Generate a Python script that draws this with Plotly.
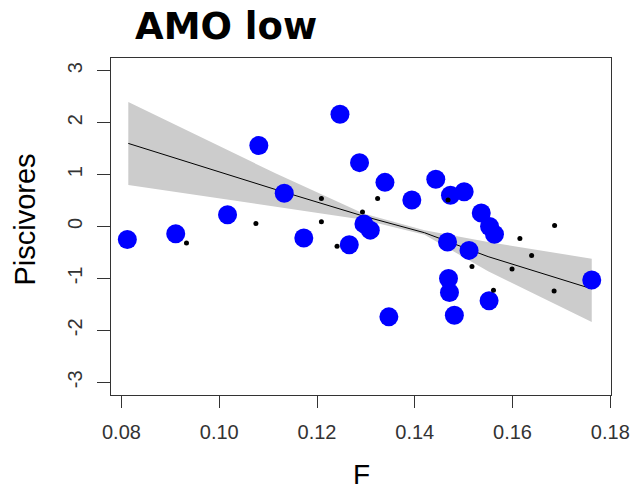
import plotly.graph_objects as go

# Blue points (F, Piscivores)
blue_F = [0.0812, 0.0911, 0.1017, 0.1081, 0.1133, 0.1173, 0.1247, 0.1266, 0.1287,
          0.1296, 0.1309, 0.1339, 0.1347, 0.1394, 0.1443, 0.1467, 0.1469, 0.1471,
          0.1473, 0.1481, 0.1501, 0.1511, 0.1536, 0.1552, 0.1553, 0.1563, 0.1762]
blue_Y = [-0.25, -0.14, 0.225, 1.56, 0.64, -0.22, 2.16, -0.35, 1.23,
          0.05, -0.07, 0.85, -1.74, 0.51, 0.91, -0.30, -1.00, -1.27,
          0.60, -1.71, 0.67, -0.46, 0.26, -1.43, 0.00, -0.15, -1.03]

# Small black points
black_F = [0.0933, 0.1075, 0.1209, 0.1209, 0.1241, 0.1293, 0.1324, 0.1468,
           0.1517, 0.1561, 0.1599, 0.1615, 0.1639, 0.1685, 0.1686]
black_Y = [-0.32, 0.06, 0.09, 0.54, -0.38, 0.28, 0.54, 0.51,
           -0.77, -1.23, -0.82, -0.23, -0.56, -1.24, 0.02]

# Fitted line and confidence band
fit_F = [0.0814, 0.1116, 0.1295, 0.1420, 0.1550, 0.1762]
fit_Y = [1.60, 0.71, 0.20, -0.12, -0.58, -1.20]
band_hi = [2.40, 1.02, 0.25, -0.07, -0.30, -0.62]
band_lo = [0.80, 0.38, 0.13, -0.16, -0.86, -1.84]

x_ticks = [0.08, 0.10, 0.12, 0.14, 0.16, 0.18]
x_ticktext = ["0.08", "0.10", "0.12", "0.14", "0.16", "0.18"]
y_ticks = [-3, -2, -1, 0, 1, 2, 3]
y_ticktext = ["-3", "-2", "-1", "0", "1", "2", "3"]

fig = go.Figure()
fig.add_trace(go.Scatter(
    x=fit_F + fit_F[::-1], y=band_hi + band_lo[::-1],
    fill="toself", fillcolor="#CCCCCC", line=dict(width=0),
    mode="lines", hoverinfo="skip", showlegend=False))
fig.add_trace(go.Scatter(
    x=fit_F, y=fit_Y, mode="lines",
    line=dict(color="black", width=1), showlegend=False))
fig.add_trace(go.Scatter(
    x=blue_F, y=blue_Y, mode="markers",
    marker=dict(color="#0000FF", size=19, line=dict(width=0)), showlegend=False))
fig.add_trace(go.Scatter(
    x=black_F, y=black_Y, mode="markers",
    marker=dict(color="black", size=5, line=dict(width=0)), showlegend=False))

axis_font = dict(family="Liberation Sans, Arial, sans-serif", size=20, color="#333333")

fig.update_layout(
    width=642, height=491,
    margin=dict(l=111, r=19, t=58, b=96),
    paper_bgcolor="white", plot_bgcolor="white",
    xaxis=dict(range=[0.07786, 0.18014], tickvals=x_ticks, ticktext=x_ticktext,
               ticks="outside", ticklen=12, tickcolor="#333333", tickwidth=1,
               showline=True, mirror=True, linecolor="#333333", linewidth=1,
               showgrid=False, zeroline=False, tickfont=axis_font,
               ticklabelstandoff=7),
    yaxis=dict(range=[-3.245, 3.245], tickvals=y_ticks, ticktext=y_ticktext,
               ticks="outside", ticklen=13, tickcolor="#333333", tickwidth=1,
               showline=True, mirror=True, linecolor="#333333", linewidth=1,
               showgrid=False, zeroline=False, tickfont=axis_font,
               tickangle=-90, ticklabelstandoff=7),
    annotations=[
        dict(text="<b>AMO low</b>", x=(134 - 111) / 512, y=(395 - 26) / 337,
             xref="paper", yref="paper", xanchor="left", yanchor="middle",
             showarrow=False,
             font=dict(family="DejaVu Sans, sans-serif", size=37, color="black")),
        dict(text="Piscivores", x=(22.5 - 111) / 512, y=(395 - 220) / 337,
             xref="paper", yref="paper", xanchor="center", yanchor="middle",
             textangle=-90, showarrow=False,
             font=dict(family="Liberation Sans, Arial, sans-serif", size=29, color="black")),
        dict(text="F", x=0.5, y=(395 - 474) / 337,
             xref="paper", yref="paper", xanchor="center", yanchor="middle",
             showarrow=False,
             font=dict(family="Liberation Sans, Arial, sans-serif", size=28, color="black")),
    ],
)

fig.write_html("out.html")
